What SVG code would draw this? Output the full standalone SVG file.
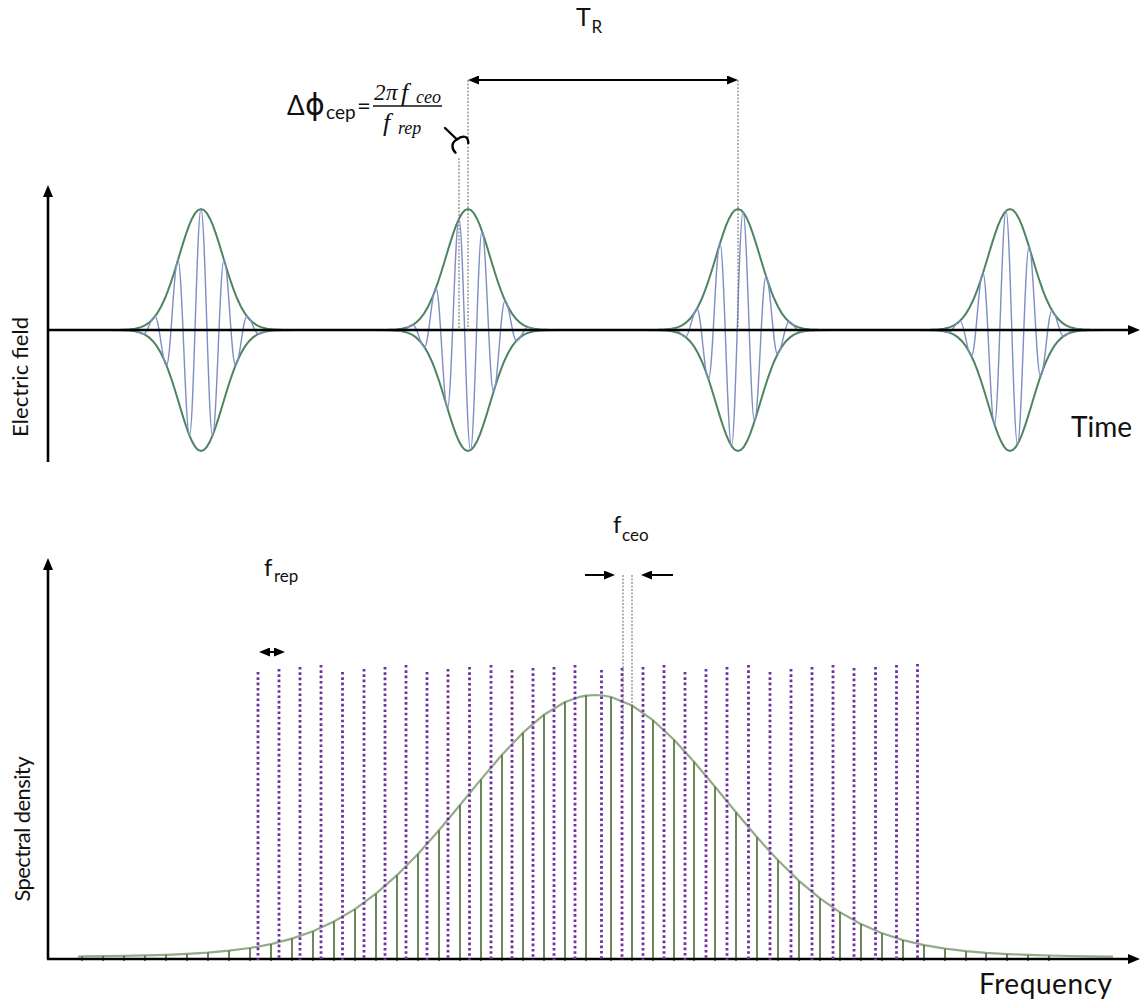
<svg xmlns="http://www.w3.org/2000/svg" width="1141" height="1005" viewBox="0 0 1141 1005">
<style>
.axis{stroke:#000;stroke-width:2.6;fill:none}
.env{fill:none;stroke:#4f8462;stroke-width:2}
.carrier{fill:none;stroke:#7f8fc4;stroke-width:1.4}
.guide{stroke:#666;stroke-width:1;stroke-dasharray:2 1.5;fill:none}
.arrow{stroke:#000;stroke-width:2;fill:none}
.comb{stroke:#56733f;stroke-width:1.7;fill:none}
.spec{fill:none;stroke:#93ab88;stroke-width:2.2;stroke-linejoin:round}
.mode{stroke:#7030a0;stroke-width:2.8;stroke-dasharray:2.6 2.7;fill:none}
.lbl{font-family:Lato,"Liberation Sans",sans-serif;fill:#111}
.math{font-family:"Liberation Serif",serif;font-style:italic;fill:#111}
</style>
<defs>
<marker id="ah" viewBox="0 0 12 10" refX="2" refY="5" markerWidth="12" markerHeight="10" markerUnits="userSpaceOnUse" orient="auto-start-reverse"><path d="M0,0 L12,5 L0,10 z" fill="#000"/></marker>
<marker id="ar" viewBox="0 0 11 9" refX="2" refY="4.5" markerWidth="11" markerHeight="9" markerUnits="userSpaceOnUse" orient="auto-start-reverse"><path d="M0,0 L11,4.5 L0,9 z" fill="#000"/></marker>
<polyline id="env" class="env" points="-95,0 -80,-0.2 -72,-0.6 -66,-1.3 -60,-2.9 -56,-4.7 -52,-7.4 -48,-11.2 -44,-16.4 -40,-23.2 -36,-31.7 -33,-39.3 -30,-47.8 -27,-57 -24,-66.7 -21,-76.7 -18,-86.6 -15,-95.9 -12,-104.3 -9,-111.3 -6,-116.6 -3,-119.9 0,-121 3,-119.9 6,-116.6 9,-111.3 12,-104.3 15,-95.9 18,-86.6 21,-76.7 24,-66.7 27,-57 30,-47.8 33,-39.3 36,-31.7 40,-23.2 44,-16.4 48,-11.2 52,-7.4 56,-4.7 60,-2.9 66,-1.3 72,-0.6 80,-0.2 95,0"/>
</defs>
<rect width="1141" height="1005" fill="#fff"/>

<!-- time domain pulses -->
<g id="pulse1" transform="translate(201,330)">
<use href="#env"/><use href="#env" transform="scale(1,-1)"/>
<path class="carrier" d="M-80,0 C-75,0 -73.2,-0.9 -69,-0.9 S-61.7,4 -57.5,4 S-50.2,-13.6 -46,-13.6 S-38.7,35.4 -34.5,35.4 S-27.2,-70.1 -23,-70.1 S-15.7,105.5 -11.5,105.5 S-4.2,-121 0,-121 S7.3,105.5 11.5,105.5 S18.8,-70.1 23,-70.1 S30.3,35.4 34.5,35.4 S41.8,-13.6 46,-13.6 S53.3,4 57.5,4 S64.8,-0.9 69,-0.9 S75,0 80,0"/>
</g>
<g id="pulse2" transform="translate(468,330)">
<use href="#env"/><use href="#env" transform="scale(1,-1)"/>
<path class="carrier" d="M-80,0 C-74,0 -70.7,1.3 -66.5,1.3 S-59.2,-5.3 -55,-5.3 S-47.7,17.1 -43.5,17.1 S-36.2,-42 -32,-42 S-24.7,78.4 -20.5,78.4 S-13.2,-111.3 -9,-111.3 S-1.7,120.2 2.5,120.2 S9.8,-98.8 14,-98.8 S21.3,61.8 25.5,61.8 S32.8,-29.4 37,-29.4 S44.3,10.7 48.5,10.7 S55.8,-2.9 60,-2.9 S67.3,0.6 71.5,0.6 S76,0 82,0"/>
</g>
<g id="pulse3" transform="translate(738,330)">
<use href="#env"/><use href="#env" transform="scale(1,-1)"/>
<path class="carrier" d="M-80,0 C-72,0 -68.2,-1.8 -64,-1.8 S-56.7,7 -52.5,7 S-45.2,-21.3 -41,-21.3 S-33.7,49.3 -29.5,49.3 S-22.2,-86.6 -18,-86.6 S-10.7,115.8 -6.5,115.8 S0.8,-117.9 5,-117.9 S12.3,91.3 16.5,91.3 S23.8,-53.8 28,-53.8 S35.3,24.1 39.5,24.1 S46.8,-8.2 51,-8.2 S58.3,2.1 62.5,2.1 S69.8,-0.4 74,-0.4 S78,0 82,0"/>
</g>
<g id="pulse4" transform="translate(1010,330)">
<use href="#env"/><use href="#env" transform="scale(1,-1)"/>
<path class="carrier" d="M-82,0 C-78,0 -77.2,-0.5 -73,-0.5 S-65.7,2.4 -61.5,2.4 S-54.2,-9.1 -50,-9.1 S-42.7,26.2 -38.5,26.2 S-31.2,-57 -27,-57 S-19.7,94.4 -15.5,94.4 S-8.2,-119 -4,-119 S3.3,114.2 7.5,114.2 S14.8,-83.3 19,-83.3 S26.3,46.3 30.5,46.3 S37.8,-19.6 42,-19.6 S49.3,6.3 53.5,6.3 S60.8,-1.5 65,-1.5 S72,0 78,0"/>
</g>

<!-- spectrum -->
<g id="spectrum">
<polyline class="spec" points="78,956.6 82,956.4 103,956.1 124,955.8 145,955.4 166,954.8 187,953.9 208,952.6 229,950.7 250,948 271,944.1 292,938.6 313,931.3 334,921.5 355,909.1 376,893.7 397,875.2 418,854 439,830.3 460,805 481,779.4 502,754.8 523,732.7 544,714.7 565,702 580,696.8 586,695.6 595,695 603,695.5 611,697 632,705.5 653,720.2 674,739.7 694,761.7 715,786.7 736,812.3 757,837.3 778,860.3 799,880.9 820,898.4 840,912.3 861,924.1 882,933.2 903,940.1 924,945.1 945,948.7 966,951.2 986,952.9 1007,954.1 1028,954.9 1049,955.5 1070,956 1090,956.3 1113,956.6"/>
<path class="comb" d="M82,961V956.4 M103,961V956.1 M124,961V955.8 M145,961V955.4 M166,961V954.8 M187,961V953.9 M208,961V952.6 M229,961V950.7 M250,961V948 M271,961V944.1 M292,961V938.6 M313,961V931.3 M334,961V921.5 M355,961V909.1 M376,961V893.7 M397,961V875.2 M418,961V854 M439,961V830.3 M460,961V805 M481,961V779.4 M502,961V754.8 M523,961V732.7 M544,961V714.7 M565,961V702 M586,961V695.6 M611,961V697 M632,961V705.5 M653,961V720.2 M674,961V739.7 M694,961V761.7 M715,961V786.7 M736,961V812.3 M757,961V837.3 M778,961V860.3 M799,961V880.9 M820,961V898.4 M840,961V912.3 M861,961V924.1 M882,961V933.2 M903,961V940.1 M924,961V945.1 M945,961V948.7 M966,961V951.2 M986,961V952.9 M1007,961V954.1 M1028,961V954.9 M1049,961V955.5"/>
</g>

<!-- axes -->
<g id="axes">
<path class="axis" d="M48,462 V195" marker-end="url(#ah)"/>
<path class="axis" d="M47,330 H1130" marker-end="url(#ah)"/>
<path class="axis" d="M48,959 V568" marker-end="url(#ah)"/>
<path class="axis" d="M47,959 H1130" marker-end="url(#ah)"/>
</g>

<g id="comb-modes">
<path class="mode" d="M258,672V960 M279,669V960 M300,667V960 M321,665V960 M342.5,672V960 M364,669V960 M385,667V960 M406,665V960 M427,672V960 M448,669V960 M469.5,667V960 M491,665V960 M512,670V960 M533,668V960 M554,667V960 M575,665V960 M601.5,670V960 M622,668V960 M643,667V960 M664,665V960 M685,672V960 M706,669V960 M727,667V960 M748.5,665V960 M770,672V960 M791,669V960 M812,667V960 M833,665V960 M854,668V960 M875.5,667V960 M896.5,665V960 M917.5,664V960"/>
</g>

<!-- connectors / annotations -->
<g id="connectors">
<path class="guide" d="M468,80 V330 M738,80 V330 M459,158 V330 M623,575 V739 M632,575 V738"/>
<path class="arrow" d="M477,80 H729" marker-start="url(#ar)" marker-end="url(#ar)"/>
<path class="arrow" d="M268,652 H276" marker-start="url(#ar)" marker-end="url(#ar)"/>
<path class="arrow" d="M585,575 H606" marker-end="url(#ar)"/>
<path class="arrow" d="M673,575 H650" marker-end="url(#ar)"/>
<path d="M445,128 L457,139.5 M457,139.5 C460,137 463,136 465.5,137 C467.5,138 468.3,140.5 468.3,143 M457,139.5 C454,141 452.5,143.5 452.5,146 C452.5,149 453.5,151 455.5,152.7" fill="none" stroke="#000" stroke-width="2.4" stroke-linecap="round" stroke-linejoin="round"/>
</g>

<!-- labels -->
<g id="labels">
<text class="lbl" x="576" y="26" font-size="25">T</text>
<text class="lbl" x="591.5" y="33" font-size="17">R</text>
<text class="lbl" x="287" y="115" font-size="26">Δ</text>
<text x="305" y="115" font-size="30" font-family="'DejaVu Sans',sans-serif" fill="#111">ϕ</text>
<text class="lbl" x="326" y="119" font-size="19">cep</text>
<text class="lbl" x="357" y="114" font-size="24">=</text>
<text class="math" y="100" font-size="23"><tspan x="374">2</tspan><tspan x="386">π</tspan></text>
<text class="math" x="401" y="101" font-size="26">f</text>
<text class="math" x="416" y="103" font-size="18">ceo</text>
<line x1="373" y1="106" x2="442" y2="106" stroke="#111" stroke-width="1.3"/>
<text class="math" x="383" y="131" font-size="26">f</text>
<text class="math" x="398" y="134" font-size="18">rep</text>
<text class="lbl" x="1071" y="437" font-size="28">Time</text>
<text class="lbl" font-size="22" text-anchor="middle" textLength="120" transform="translate(28,377) rotate(-90)">Electric field</text>
<text class="lbl" font-size="22" text-anchor="middle" textLength="145" transform="translate(30,829) rotate(-90)">Spectral density</text>
<text class="lbl" x="979" y="994" font-size="28" textLength="133">Frequency</text>
<text class="lbl" x="264" y="576" font-size="24">f</text>
<text class="lbl" x="274" y="582" font-size="17">rep</text>
<text class="lbl" x="613" y="533" font-size="24">f</text>
<text class="lbl" x="622" y="541" font-size="17">ceo</text>
</g>
</svg>
